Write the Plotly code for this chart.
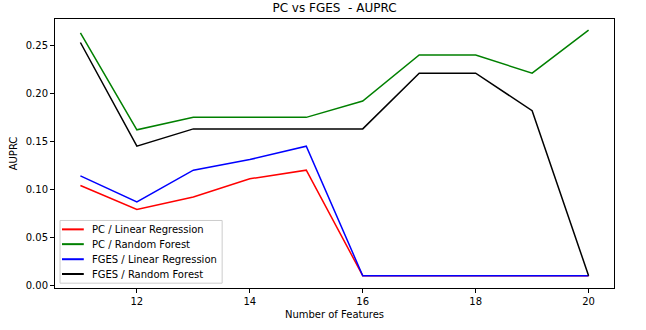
import plotly.graph_objects as go

# number of features on the x axis
features = [11, 12, 13, 14, 15, 16, 17, 18, 19, 20]

pc_linear = [0.104, 0.079, 0.092, 0.111, 0.120, 0.010, 0.010, 0.010, 0.010, 0.010]
pc_forest = [0.263, 0.162, 0.175, 0.175, 0.175, 0.192, 0.240, 0.240, 0.221, 0.266]
fges_linear = [0.114, 0.087, 0.120, 0.131, 0.145, 0.010, 0.010, 0.010, 0.010, 0.010]
fges_forest = [0.253, 0.145, 0.163, 0.163, 0.163, 0.163, 0.221, 0.221, 0.182, 0.010]

x_ticks = [12, 14, 16, 18, 20]
y_ticks = [0.00, 0.05, 0.10, 0.15, 0.20, 0.25]

series = [
    ("PC / Linear Regression", pc_linear, "#ff0000"),
    ("PC / Random Forest", pc_forest, "#008000"),
    ("FGES / Linear Regression", fges_linear, "#0000ff"),
    ("FGES / Random Forest", fges_forest, "#000000"),
]

fig = go.Figure()
for name, vals, color in series:
    fig.add_trace(go.Scatter(
        x=features, y=vals, name=name, mode="lines",
        line=dict(color=color, width=1.5), showlegend=False,
    ))

# matplotlib-style legend box in the lower left corner (paper coords)
fig.add_shape(type="rect", xref="paper", yref="paper",
              x0=0.009, x1=0.299, y0=0.018, y1=0.251,
              line=dict(color="#cccccc", width=1),
              fillcolor="rgba(255,255,255,0.8)", layer="above")
row_y = [0.218, 0.163, 0.107, 0.052]
for (name, _, color), yy in zip(series, row_y):
    fig.add_shape(type="line", xref="paper", yref="paper",
                  x0=0.0125, x1=0.0515, y0=yy, y1=yy,
                  line=dict(color=color, width=2), layer="above")
    fig.add_annotation(text=name, xref="paper", yref="paper",
                       x=0.062, y=yy, xanchor="left", yanchor="middle",
                       showarrow=False, font=dict(size=10, color="#000000"))

axis_common = dict(
    showgrid=False, zeroline=False,
    showline=True, linecolor="#000000", linewidth=1, mirror=True,
    ticks="outside", ticklen=4, tickwidth=1, tickcolor="#000000",
    tickfont=dict(size=10, color="#000000"),
)

fig.update_layout(
    width=646, height=330,
    margin=dict(l=55, r=32, t=19, b=40),
    paper_bgcolor="white", plot_bgcolor="white",
    font=dict(family="DejaVu Sans", size=10, color="#000000"),
    title=dict(text="PC vs FGES  - AUPRC", x=0.5, xref="paper", xanchor="center",
               y=0.99, yanchor="top", font=dict(size=12)),
    xaxis=dict(range=[10.55, 20.45], tickvals=x_ticks,
               title=dict(text="Number of Features", font=dict(size=10), standoff=4),
               **axis_common),
    yaxis=dict(range=[-0.0028, 0.2775], tickvals=y_ticks, tickformat=".2f",
               title=dict(text="AUPRC", font=dict(size=10), standoff=6),
               **axis_common),
    showlegend=False,
)

# the page body has a default 8px margin; drop it so the figure sits at 0,0
fig.write_html("out.html", config={"displayModeBar": False},
               post_script="document.body.style.margin='0';")
